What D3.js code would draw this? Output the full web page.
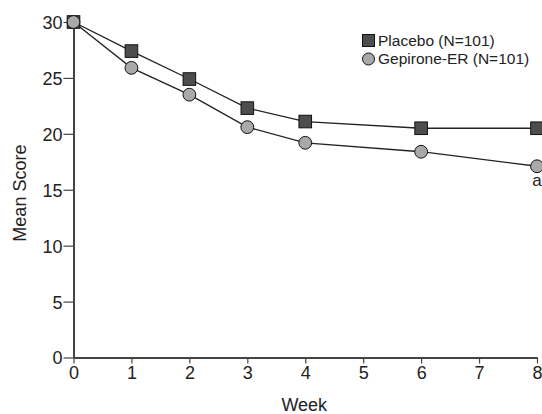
<!DOCTYPE html>
<meta charset="UTF-8">
<script src="https://d3js.org/d3.v7.min.js"></script>
<style>
  body { margin: 0; background: #fff; }
  text { font-family: "Liberation Sans", Arial, sans-serif; fill: #222; }
</style>
<svg id="chart" width="542" height="414"></svg>
<script>
// data
var weeks = [0, 1, 2, 3, 4, 6, 8];
var placebo = [30, 27.4, 24.9, 22.3, 21.1, 20.5, 20.5];
var gepirone = [30, 25.9, 23.5, 20.6, 19.2, 18.4, 17.1];
var xTicks = [0, 1, 2, 3, 4, 5, 6, 7, 8];
var yTicks = [0, 5, 10, 15, 20, 25, 30];
var seriesNames = ["Placebo (N=101)", "Gepirone-ER (N=101)"];

var svg = d3.select("#chart");
var margin = {left: 73.5, right: 5, top: 22, bottom: 56.5};
var width = 542, height = 414;

var x = d3.scaleLinear().domain([0, 8]).range([margin.left, width - margin.right]);
var y = d3.scaleLinear().domain([0, 30]).range([height - margin.bottom, margin.top]);

// axes
var xAxis = svg.append("g")
  .attr("transform", "translate(0," + y(0) + ")")
  .call(d3.axisBottom(x).tickValues(xTicks).tickFormat(d3.format("d"))
    .tickSize(6).tickSizeOuter(0).tickPadding(3));
var yAxis = svg.append("g")
  .attr("transform", "translate(" + x(0) + ",0)")
  .call(d3.axisLeft(y).tickValues(yTicks).tickSize(10).tickSizeOuter(0).tickPadding(1));

[xAxis, yAxis].forEach(function(a) {
  a.select(".domain").attr("stroke", "#444").attr("stroke-width", 2);
  a.selectAll(".tick line").attr("stroke", "#444").attr("stroke-width", 1.2);
  a.selectAll(".tick text").style("font-size", "18px").attr("fill", "#222");
});
yAxis.selectAll(".tick text").attr("dy", "0.36em");

svg.append("text")
  .attr("x", (x(0) + x(8)) / 2 - 1).attr("y", 411)
  .attr("text-anchor", "middle")
  .style("font-size", "18px")
  .text("Week");

svg.append("text")
  .attr("transform", "translate(26," + y(14.7) + ") rotate(-90)")
  .attr("text-anchor", "middle")
  .style("font-size", "18px")
  .text("Mean Score");

var line = d3.line().x(function(d) { return x(d[0]); }).y(function(d) { return y(d[1]); });

var gepData = weeks.map(function(w, i) { return [w, gepirone[i]]; });
var plaData = weeks.map(function(w, i) { return [w, placebo[i]]; });

svg.append("path").datum(gepData).attr("d", line)
  .attr("fill", "none").attr("stroke", "#222").attr("stroke-width", 1.3);
svg.append("path").datum(plaData).attr("d", line)
  .attr("fill", "none").attr("stroke", "#222").attr("stroke-width", 1.3);

svg.append("g").selectAll("rect").data(plaData).enter().append("rect")
  .attr("x", function(d) { return x(d[0]) - 6.3; })
  .attr("y", function(d) { return y(d[1]) - 6.3; })
  .attr("width", 12.6).attr("height", 12.6)
  .attr("fill", "#4d4d4d").attr("stroke", "#111").attr("stroke-width", 1);

svg.append("g").selectAll("circle").data(gepData).enter().append("circle")
  .attr("cx", function(d) { return x(d[0]); })
  .attr("cy", function(d) { return y(d[1]); })
  .attr("r", 6.4)
  .attr("fill", "#a9a9a9").attr("stroke", "#111").attr("stroke-width", 1);

// significance mark
svg.append("text")
  .attr("x", x(8)).attr("y", y(gepirone[6]) + 20)
  .attr("text-anchor", "middle")
  .style("font-size", "17px")
  .text("a");

// legend
var lg = svg.append("g").attr("transform", "translate(362,34)");
lg.append("rect").attr("x", 0.5).attr("y", 0.5).attr("width", 12).attr("height", 12)
  .attr("fill", "#4d4d4d").attr("stroke", "#111");
lg.append("circle").attr("cx", 6.5).attr("cy", 25).attr("r", 6)
  .attr("fill", "#a9a9a9").attr("stroke", "#111");
lg.selectAll("text.lab").data(seriesNames).enter().append("text")
  .attr("x", 16).attr("y", function(d, i) { return 12 + i * 18; })
  .style("font-size", "15.5px")
  .text(function(d) { return d; });
</script>
